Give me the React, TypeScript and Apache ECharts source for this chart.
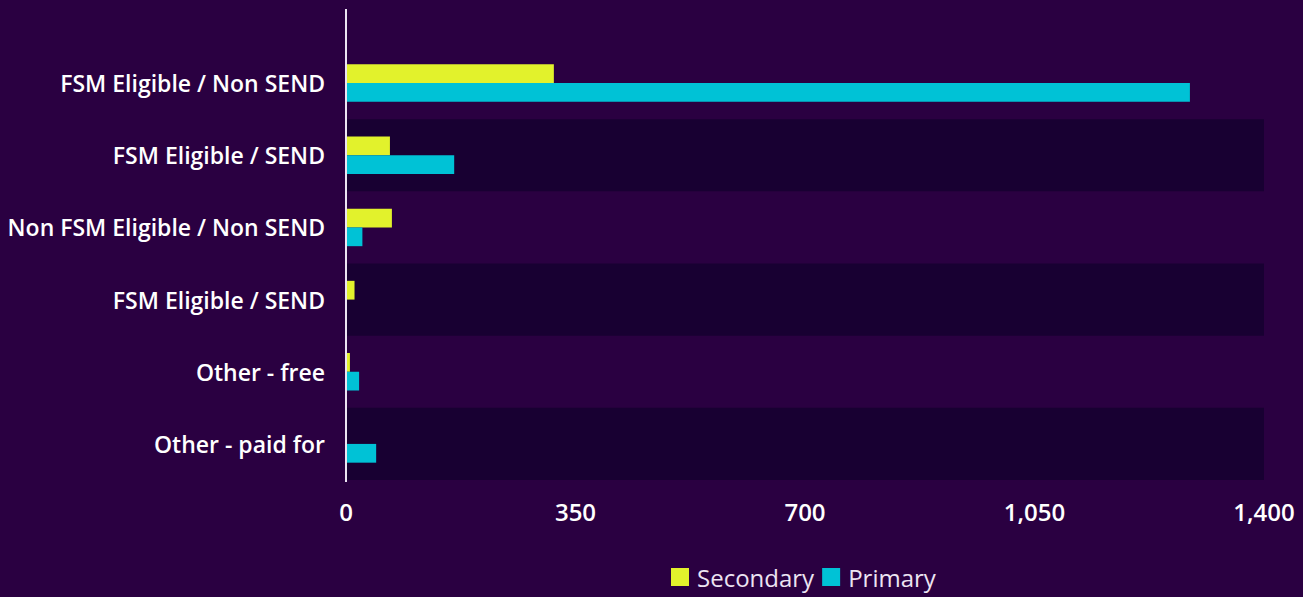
import React, { useEffect, useRef } from "react";
import * as echarts from "echarts";

const categories = [
  "FSM Eligible / Non SEND",
  "FSM Eligible / SEND",
  "Non FSM Eligible / Non SEND",
  "FSM Eligible / SEND",
  "Other - free",
  "Other - paid for",
];
const secondary = [317, 67, 70, 13, 6, 0];
const primary = [1287, 165, 25, 0, 20, 46];
const xTicks = { min: 0, max: 1400, interval: 350 };

export default function App() {
  const ref = useRef<HTMLDivElement>(null);
  useEffect(() => {
    if (!ref.current) return;
    const chart = echarts.init(ref.current, undefined, { renderer: "svg" });
    chart.setOption({
      animation: false,
      backgroundColor: "#2a0041",
      textStyle: { fontFamily: "Open Sans" },
      grid: { left: 346, right: 39, top: 47, bottom: 117 },
      legend: {
        bottom: 8,
        left: 671,
        padding: 0,
        itemWidth: 18,
        itemHeight: 18,
        itemGap: 8,
        icon: "rect",
        textStyle: { color: "#ece4f2", fontSize: 24, fontFamily: "Open Sans", padding: [0, 0, 0, 3] },
        data: ["Secondary", "Primary"],
      },
      xAxis: {
        type: "value",
        min: xTicks.min,
        max: xTicks.max,
        interval: xTicks.interval,
        axisLine: { show: false },
        axisTick: { show: false },
        splitLine: { show: false },
        axisLabel: {
          color: "#ffffff",
          fontSize: 24,
          fontWeight: 600,
          fontFamily: "Open Sans",
          margin: 19,
          formatter: (v: number) => v.toLocaleString("en-US"),
        },
      },
      yAxis: {
        type: "category",
        inverse: true,
        data: categories,
        axisLine: { show: false },
        axisTick: { show: false },
        axisLabel: { color: "#ffffff", fontSize: 23, fontWeight: 600, fontFamily: "Open Sans", margin: 21 },
        splitArea: { show: true, areaStyle: { color: ["rgba(0,0,0,0)", "#180032"] } },
      },
      graphic: [
        {
          type: "line",
          shape: { x1: 346, y1: 9, x2: 346, y2: 482 },
          style: { stroke: "#ece4f2", lineWidth: 2 },
          z: 100,
        },
      ],
      series: [
        {
          name: "Secondary",
          type: "bar",
          data: secondary,
          barGap: "0%",
          barCategoryGap: "48%",
          itemStyle: { color: "#e2f22c" },
        },
        {
          name: "Primary",
          type: "bar",
          data: primary,
          itemStyle: { color: "#00c2d6" },
        },
      ],
    });
    return () => chart.dispose();
  }, []);
  return <div ref={ref} style={{ width: 1303, height: 597, position: "absolute", left: 0, top: 0 }} />;
}
